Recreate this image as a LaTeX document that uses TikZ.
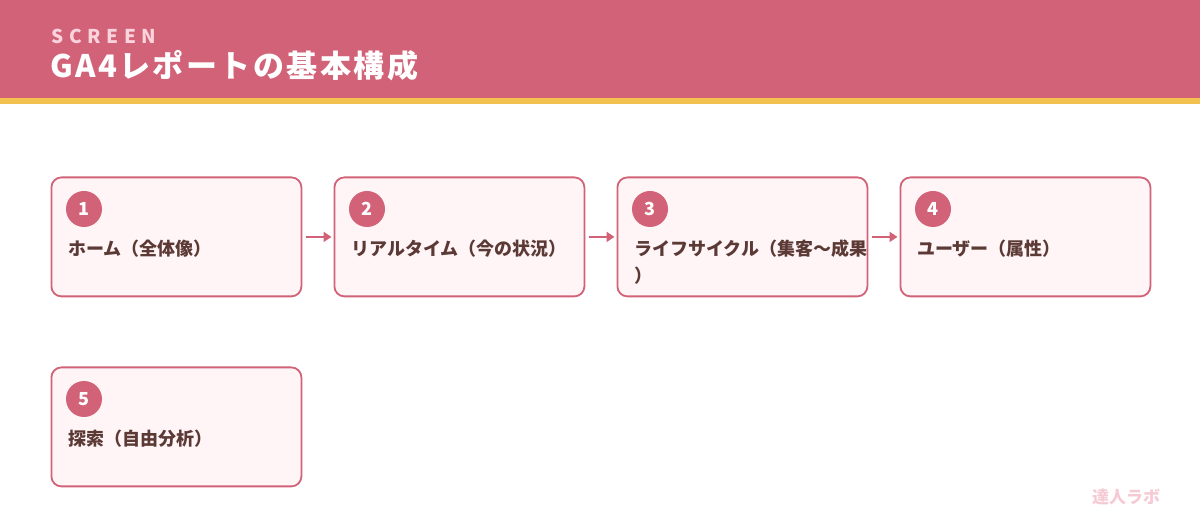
\documentclass[tikz,border=0pt]{standalone}
\usepackage{fontspec}
\setmainfont{Noto Sans CJK JP}
\newfontfamily\spaced{Noto Sans CJK JP}[LetterSpace=30]
\newfontfamily\titlefont{Noto Sans CJK JP}[LetterSpace=8]
\usetikzlibrary{arrows.meta}
\definecolor{hdr}{HTML}{D16277}
\definecolor{stripe}{HTML}{F3C14F}
\definecolor{boxfill}{HTML}{FFF4F6}
\definecolor{lbl}{HTML}{5B3A36}
\definecolor{screen}{HTML}{FBD3DC}
\definecolor{wm}{HTML}{F6CAD4}
\tikzset{
  stepbox/.style={draw=hdr, line width=1.8pt, fill=boxfill, rounded corners=10pt, minimum width=250pt, minimum height=119pt, inner sep=0pt, anchor=north west},
  numdot/.style={circle, fill=hdr, minimum size=36pt, inner sep=0pt, text=white, font=\fontsize{18}{20}\selectfont\bfseries},
  steplabel/.style={anchor=base west, inner sep=0pt, text=lbl, font=\fontsize{18}{27}\selectfont\bfseries},
  arr/.style={draw=hdr, line width=2.6pt, -{Triangle[length=8pt,width=10pt]}}
}
\begin{document}
\begin{tikzpicture}[x=1pt,y=-1pt]
\useasboundingbox (0,0) rectangle (1200,526);
\fill[hdr] (0,0) rectangle (1200,98);
\fill[stripe] (0,98) rectangle (1200,104);
\node[anchor=west, inner sep=0pt, text=screen, font=\fontsize{19}{20}\selectfont\bfseries\spaced] (scr) at (51,36) {SCREEN};
\node[anchor=west, inner sep=0pt, text=white, font=\fontsize{31}{34}\selectfont\bfseries\titlefont] (ttl) at (50,66) {GA4レポートの基本構成};

\node[stepbox] (b1) at (50.5,176.5) {};
\node[stepbox] (b2) at (333.5,176.5) {};
\node[stepbox] (b3) at (616.5,176.5) {};
\node[stepbox] (b4) at (899.5,176.5) {};
\node[stepbox] (b5) at (50.5,366.5) {};

\node[numdot] (n1) at (84,209) {1};
\node[numdot] (n2) at (367,209) {2};
\node[numdot] (n3) at (650,209) {3};
\node[numdot] (n4) at (933,209) {4};
\node[numdot] (n5) at (84,399) {5};

\node[steplabel] (l1) at (68,256) {ホーム（全体像）};
\node[steplabel] (l2) at (351,256) {リアルタイム（今の状況）};
\node[steplabel] (l3) at (634,256) {\vtop{\hbox{ライフサイクル（集客〜成果}\hbox{）}}};
\node[steplabel] (l4) at (917,256) {ユーザー（属性）};
\node[steplabel] (l5) at (68,446) {探索（自由分析）};

\draw[arr] ([xshift=4pt]b1.east) -- ([xshift=-2pt]b2.west);
\draw[arr] ([xshift=4pt]b2.east) -- ([xshift=-2pt]b3.west);
\draw[arr] ([xshift=4pt]b3.east) -- ([xshift=-2pt]b4.west);

\node[anchor=west, inner sep=0pt, text=wm, font=\fontsize{17}{18}\selectfont\bfseries] (wmk) at (1092,497) {達人ラボ};
\end{tikzpicture}
\end{document}
